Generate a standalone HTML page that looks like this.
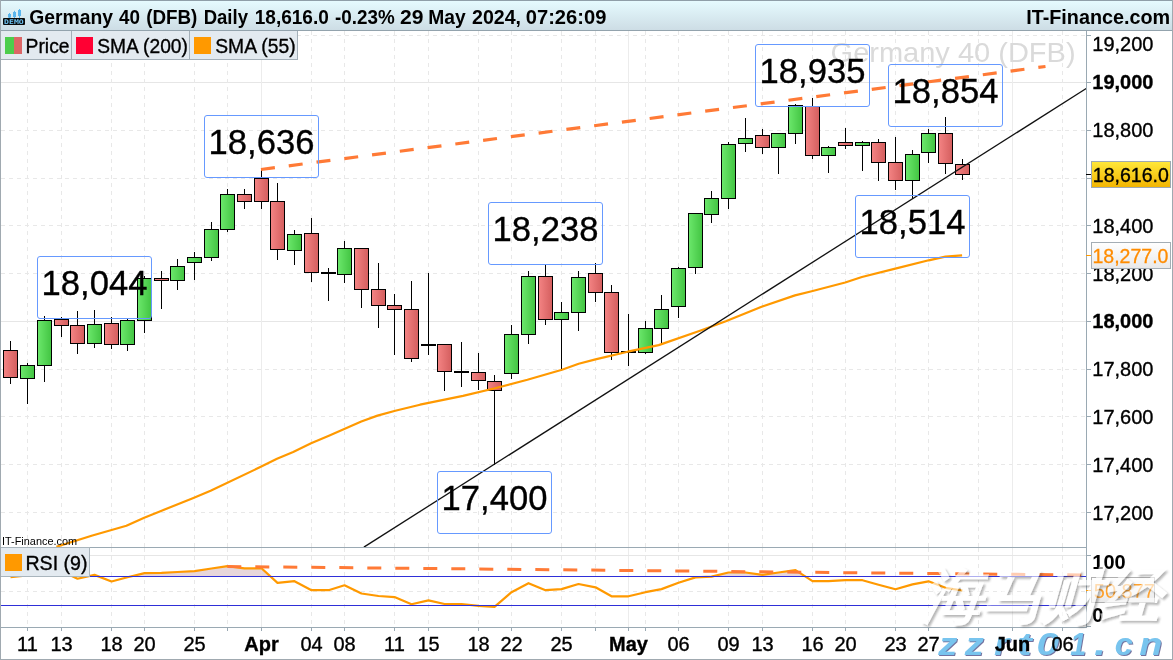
<!DOCTYPE html>
<html><head><meta charset="utf-8"><title>Germany 40 (DFB) Daily</title>
<style>
html,body{margin:0;padding:0;background:#fff;width:1173px;height:660px;overflow:hidden}
svg{display:block}
text{font-family:"Liberation Sans",Arial,sans-serif;stroke:currentColor;stroke-width:0}
.b3{stroke:#000;stroke-width:0.35px}
</style></head><body>
<svg width="1173" height="660" viewBox="0 0 1173 660">
<defs>
<linearGradient id="hdr" x1="0" y1="0" x2="0" y2="1"><stop offset="0" stop-color="#e6fbff"/><stop offset="1" stop-color="#cddde5"/></linearGradient>
<linearGradient id="gG" x1="0" y1="0" x2="1" y2="0"><stop offset="0" stop-color="#6ce86c"/><stop offset="1" stop-color="#42c442"/></linearGradient>
<linearGradient id="gR" x1="0" y1="0" x2="1" y2="0"><stop offset="0" stop-color="#f48484"/><stop offset="1" stop-color="#d45e5e"/></linearGradient>
<linearGradient id="gY" x1="0" y1="0" x2="0" y2="1"><stop offset="0" stop-color="#ffe83a"/><stop offset="1" stop-color="#f2b400"/></linearGradient>
<linearGradient id="gW" x1="0" y1="0" x2="0" y2="1"><stop offset="0" stop-color="#ffffff"/><stop offset="1" stop-color="#e9e9e9"/></linearGradient>
<clipPath id="cpMain"><rect x="1" y="31" width="1085" height="516"/></clipPath>
<clipPath id="cpRsi"><rect x="1" y="548" width="1085" height="79"/></clipPath>
<filter id="wmShadow" x="-10%" y="-10%" width="130%" height="140%"><feGaussianBlur in="SourceAlpha" stdDeviation="0.9"/><feOffset dx="2.2" dy="2.4" result="b"/><feFlood flood-color="#3a3a3a" flood-opacity="0.6"/><feComposite in2="b" operator="in"/><feMerge><feMergeNode/><feMergeNode in="SourceGraphic"/></feMerge></filter>
<filter id="urlShadow" x="-10%" y="-20%" width="130%" height="150%"><feOffset in="SourceAlpha" dx="1.2" dy="1.4" result="o"/><feFlood flood-color="#5a5a90" flood-opacity="0.85"/><feComposite in2="o" operator="in"/><feMerge><feMergeNode/><feMergeNode in="SourceGraphic"/></feMerge></filter>
</defs>
<rect x="0" y="0" width="1173" height="660" fill="#fff"/>

<line x1="1" y1="512.5" x2="1086" y2="512.5" stroke="#e8e8e8" stroke-width="1" stroke-dasharray="4 4"/>
<line x1="1" y1="464.5" x2="1086" y2="464.5" stroke="#e8e8e8" stroke-width="1" stroke-dasharray="4 4"/>
<line x1="1" y1="416.5" x2="1086" y2="416.5" stroke="#e8e8e8" stroke-width="1" stroke-dasharray="4 4"/>
<line x1="1" y1="369.5" x2="1086" y2="369.5" stroke="#e8e8e8" stroke-width="1" stroke-dasharray="4 4"/>
<line x1="1" y1="321.5" x2="1086" y2="321.5" stroke="#e6e6e6" stroke-width="1"/>
<line x1="1" y1="273.5" x2="1086" y2="273.5" stroke="#e8e8e8" stroke-width="1" stroke-dasharray="4 4"/>
<line x1="1" y1="225.5" x2="1086" y2="225.5" stroke="#e8e8e8" stroke-width="1" stroke-dasharray="4 4"/>
<line x1="1" y1="178.5" x2="1086" y2="178.5" stroke="#e8e8e8" stroke-width="1" stroke-dasharray="4 4"/>
<line x1="1" y1="130.5" x2="1086" y2="130.5" stroke="#e8e8e8" stroke-width="1" stroke-dasharray="4 4"/>
<line x1="1" y1="82.5" x2="1086" y2="82.5" stroke="#e6e6e6" stroke-width="1"/>
<line x1="1" y1="35.5" x2="1086" y2="35.5" stroke="#e8e8e8" stroke-width="1" stroke-dasharray="4 4"/>
<line x1="27.5" y1="31" x2="27.5" y2="547" stroke="#e8e8e8" stroke-width="1" stroke-dasharray="4 4"/>
<line x1="27.5" y1="548" x2="27.5" y2="627" stroke="#e8e8e8" stroke-width="1" stroke-dasharray="4 4"/>
<line x1="61.5" y1="31" x2="61.5" y2="547" stroke="#e8e8e8" stroke-width="1" stroke-dasharray="4 4"/>
<line x1="61.5" y1="548" x2="61.5" y2="627" stroke="#e8e8e8" stroke-width="1" stroke-dasharray="4 4"/>
<line x1="111.5" y1="31" x2="111.5" y2="547" stroke="#e8e8e8" stroke-width="1" stroke-dasharray="4 4"/>
<line x1="111.5" y1="548" x2="111.5" y2="627" stroke="#e8e8e8" stroke-width="1" stroke-dasharray="4 4"/>
<line x1="144.5" y1="31" x2="144.5" y2="547" stroke="#e8e8e8" stroke-width="1" stroke-dasharray="4 4"/>
<line x1="144.5" y1="548" x2="144.5" y2="627" stroke="#e8e8e8" stroke-width="1" stroke-dasharray="4 4"/>
<line x1="194.5" y1="31" x2="194.5" y2="547" stroke="#e8e8e8" stroke-width="1" stroke-dasharray="4 4"/>
<line x1="194.5" y1="548" x2="194.5" y2="627" stroke="#e8e8e8" stroke-width="1" stroke-dasharray="4 4"/>
<line x1="227.5" y1="31" x2="227.5" y2="547" stroke="#e8e8e8" stroke-width="1" stroke-dasharray="4 4"/>
<line x1="227.5" y1="548" x2="227.5" y2="627" stroke="#e8e8e8" stroke-width="1" stroke-dasharray="4 4"/>
<line x1="261.5" y1="31" x2="261.5" y2="547" stroke="#ececec" stroke-width="1"/>
<line x1="261.5" y1="548" x2="261.5" y2="627" stroke="#ececec" stroke-width="1"/>
<line x1="311.5" y1="31" x2="311.5" y2="547" stroke="#e8e8e8" stroke-width="1" stroke-dasharray="4 4"/>
<line x1="311.5" y1="548" x2="311.5" y2="627" stroke="#e8e8e8" stroke-width="1" stroke-dasharray="4 4"/>
<line x1="344.5" y1="31" x2="344.5" y2="547" stroke="#e8e8e8" stroke-width="1" stroke-dasharray="4 4"/>
<line x1="344.5" y1="548" x2="344.5" y2="627" stroke="#e8e8e8" stroke-width="1" stroke-dasharray="4 4"/>
<line x1="394.5" y1="31" x2="394.5" y2="547" stroke="#e8e8e8" stroke-width="1" stroke-dasharray="4 4"/>
<line x1="394.5" y1="548" x2="394.5" y2="627" stroke="#e8e8e8" stroke-width="1" stroke-dasharray="4 4"/>
<line x1="428.5" y1="31" x2="428.5" y2="547" stroke="#e8e8e8" stroke-width="1" stroke-dasharray="4 4"/>
<line x1="428.5" y1="548" x2="428.5" y2="627" stroke="#e8e8e8" stroke-width="1" stroke-dasharray="4 4"/>
<line x1="478.5" y1="31" x2="478.5" y2="547" stroke="#e8e8e8" stroke-width="1" stroke-dasharray="4 4"/>
<line x1="478.5" y1="548" x2="478.5" y2="627" stroke="#e8e8e8" stroke-width="1" stroke-dasharray="4 4"/>
<line x1="511.5" y1="31" x2="511.5" y2="547" stroke="#e8e8e8" stroke-width="1" stroke-dasharray="4 4"/>
<line x1="511.5" y1="548" x2="511.5" y2="627" stroke="#e8e8e8" stroke-width="1" stroke-dasharray="4 4"/>
<line x1="561.5" y1="31" x2="561.5" y2="547" stroke="#e8e8e8" stroke-width="1" stroke-dasharray="4 4"/>
<line x1="561.5" y1="548" x2="561.5" y2="627" stroke="#e8e8e8" stroke-width="1" stroke-dasharray="4 4"/>
<line x1="595.5" y1="31" x2="595.5" y2="547" stroke="#e8e8e8" stroke-width="1" stroke-dasharray="4 4"/>
<line x1="595.5" y1="548" x2="595.5" y2="627" stroke="#e8e8e8" stroke-width="1" stroke-dasharray="4 4"/>
<line x1="628.5" y1="31" x2="628.5" y2="547" stroke="#ececec" stroke-width="1"/>
<line x1="628.5" y1="548" x2="628.5" y2="627" stroke="#ececec" stroke-width="1"/>
<line x1="645.5" y1="31" x2="645.5" y2="547" stroke="#e8e8e8" stroke-width="1" stroke-dasharray="4 4"/>
<line x1="645.5" y1="548" x2="645.5" y2="627" stroke="#e8e8e8" stroke-width="1" stroke-dasharray="4 4"/>
<line x1="678.5" y1="31" x2="678.5" y2="547" stroke="#e8e8e8" stroke-width="1" stroke-dasharray="4 4"/>
<line x1="678.5" y1="548" x2="678.5" y2="627" stroke="#e8e8e8" stroke-width="1" stroke-dasharray="4 4"/>
<line x1="728.5" y1="31" x2="728.5" y2="547" stroke="#e8e8e8" stroke-width="1" stroke-dasharray="4 4"/>
<line x1="728.5" y1="548" x2="728.5" y2="627" stroke="#e8e8e8" stroke-width="1" stroke-dasharray="4 4"/>
<line x1="762.5" y1="31" x2="762.5" y2="547" stroke="#e8e8e8" stroke-width="1" stroke-dasharray="4 4"/>
<line x1="762.5" y1="548" x2="762.5" y2="627" stroke="#e8e8e8" stroke-width="1" stroke-dasharray="4 4"/>
<line x1="812.5" y1="31" x2="812.5" y2="547" stroke="#e8e8e8" stroke-width="1" stroke-dasharray="4 4"/>
<line x1="812.5" y1="548" x2="812.5" y2="627" stroke="#e8e8e8" stroke-width="1" stroke-dasharray="4 4"/>
<line x1="845.5" y1="31" x2="845.5" y2="547" stroke="#e8e8e8" stroke-width="1" stroke-dasharray="4 4"/>
<line x1="845.5" y1="548" x2="845.5" y2="627" stroke="#e8e8e8" stroke-width="1" stroke-dasharray="4 4"/>
<line x1="895.5" y1="31" x2="895.5" y2="547" stroke="#e8e8e8" stroke-width="1" stroke-dasharray="4 4"/>
<line x1="895.5" y1="548" x2="895.5" y2="627" stroke="#e8e8e8" stroke-width="1" stroke-dasharray="4 4"/>
<line x1="928.5" y1="31" x2="928.5" y2="547" stroke="#e8e8e8" stroke-width="1" stroke-dasharray="4 4"/>
<line x1="928.5" y1="548" x2="928.5" y2="627" stroke="#e8e8e8" stroke-width="1" stroke-dasharray="4 4"/>
<line x1="978.5" y1="31" x2="978.5" y2="547" stroke="#e8e8e8" stroke-width="1" stroke-dasharray="4 4"/>
<line x1="978.5" y1="548" x2="978.5" y2="627" stroke="#e8e8e8" stroke-width="1" stroke-dasharray="4 4"/>
<line x1="1012.5" y1="31" x2="1012.5" y2="547" stroke="#ececec" stroke-width="1"/>
<line x1="1012.5" y1="548" x2="1012.5" y2="627" stroke="#ececec" stroke-width="1"/>
<line x1="1062.5" y1="31" x2="1062.5" y2="547" stroke="#e8e8e8" stroke-width="1" stroke-dasharray="4 4"/>
<line x1="1062.5" y1="548" x2="1062.5" y2="627" stroke="#e8e8e8" stroke-width="1" stroke-dasharray="4 4"/>
<line x1="1" y1="555.5" x2="1086" y2="555.5" stroke="#e6e6e6" stroke-width="1"/>
<line x1="1" y1="591.5" x2="1086" y2="591.5" stroke="#e8e8e8" stroke-width="1" stroke-dasharray="4 4"/>
<text x="830.6" y="62.2" font-size="28" fill="#dadada" textLength="245" lengthAdjust="spacingAndGlyphs">Germany 40 (DFB)</text>
<rect x="10" y="341" width="1" height="43" fill="#000"/>
<rect x="3.5" y="350.5" width="14" height="27" fill="url(#gR)" stroke="#000" stroke-width="1"/>
<rect x="27" y="363" width="1" height="41" fill="#000"/>
<rect x="20.5" y="365.5" width="14" height="13" fill="url(#gG)" stroke="#000" stroke-width="1"/>
<rect x="44" y="316" width="1" height="66" fill="#000"/>
<rect x="37.5" y="320.5" width="14" height="45" fill="url(#gG)" stroke="#000" stroke-width="1"/>
<rect x="61" y="317" width="1" height="20" fill="#000"/>
<rect x="54.5" y="319.5" width="14" height="6" fill="url(#gR)" stroke="#000" stroke-width="1"/>
<rect x="77" y="311" width="1" height="43" fill="#000"/>
<rect x="70.5" y="325.5" width="14" height="18" fill="url(#gR)" stroke="#000" stroke-width="1"/>
<rect x="94" y="310" width="1" height="38" fill="#000"/>
<rect x="87.5" y="324.5" width="14" height="19" fill="url(#gG)" stroke="#000" stroke-width="1"/>
<rect x="111" y="317" width="1" height="32" fill="#000"/>
<rect x="104.5" y="323.5" width="14" height="21" fill="url(#gR)" stroke="#000" stroke-width="1"/>
<rect x="127" y="318" width="1" height="33" fill="#000"/>
<rect x="120.5" y="320.5" width="14" height="24" fill="url(#gG)" stroke="#000" stroke-width="1"/>
<rect x="144" y="276" width="1" height="57" fill="#000"/>
<rect x="137.5" y="278.5" width="14" height="42" fill="url(#gG)" stroke="#000" stroke-width="1"/>
<rect x="161" y="271" width="1" height="38" fill="#000"/>
<rect x="154.5" y="278.5" width="14" height="2" fill="url(#gR)" stroke="#000" stroke-width="1"/>
<rect x="177" y="259" width="1" height="31" fill="#000"/>
<rect x="170.5" y="266.5" width="14" height="14" fill="url(#gG)" stroke="#000" stroke-width="1"/>
<rect x="194" y="252" width="1" height="28" fill="#000"/>
<rect x="187.5" y="257.5" width="14" height="5" fill="url(#gG)" stroke="#000" stroke-width="1"/>
<rect x="211" y="222" width="1" height="39" fill="#000"/>
<rect x="204.5" y="229.5" width="14" height="28" fill="url(#gG)" stroke="#000" stroke-width="1"/>
<rect x="227" y="189" width="1" height="43" fill="#000"/>
<rect x="220.5" y="194.5" width="14" height="35" fill="url(#gG)" stroke="#000" stroke-width="1"/>
<rect x="244" y="189" width="1" height="20" fill="#000"/>
<rect x="237.5" y="194.5" width="14" height="7" fill="url(#gR)" stroke="#000" stroke-width="1"/>
<rect x="261" y="169" width="1" height="40" fill="#000"/>
<rect x="254.5" y="178.5" width="14" height="23" fill="url(#gR)" stroke="#000" stroke-width="1"/>
<rect x="277" y="183" width="1" height="77" fill="#000"/>
<rect x="270.5" y="201.5" width="14" height="48" fill="url(#gR)" stroke="#000" stroke-width="1"/>
<rect x="294" y="230" width="1" height="35" fill="#000"/>
<rect x="287.5" y="234.5" width="14" height="16" fill="url(#gG)" stroke="#000" stroke-width="1"/>
<rect x="311" y="218" width="1" height="64" fill="#000"/>
<rect x="304.5" y="233.5" width="14" height="39" fill="url(#gR)" stroke="#000" stroke-width="1"/>
<rect x="328" y="268" width="1" height="33" fill="#000"/>
<rect x="321" y="272" width="15" height="2" fill="#000"/>
<rect x="344" y="241" width="1" height="42" fill="#000"/>
<rect x="337.5" y="248.5" width="14" height="26" fill="url(#gG)" stroke="#000" stroke-width="1"/>
<rect x="361" y="248" width="1" height="60" fill="#000"/>
<rect x="354.5" y="248.5" width="14" height="41" fill="url(#gR)" stroke="#000" stroke-width="1"/>
<rect x="378" y="263" width="1" height="65" fill="#000"/>
<rect x="371.5" y="289.5" width="14" height="16" fill="url(#gR)" stroke="#000" stroke-width="1"/>
<rect x="394" y="294" width="1" height="61" fill="#000"/>
<rect x="387.5" y="305.5" width="14" height="4" fill="url(#gR)" stroke="#000" stroke-width="1"/>
<rect x="411" y="281" width="1" height="81" fill="#000"/>
<rect x="404.5" y="309.5" width="14" height="49" fill="url(#gR)" stroke="#000" stroke-width="1"/>
<rect x="428" y="273" width="1" height="82" fill="#000"/>
<rect x="421" y="344" width="15" height="2" fill="#000"/>
<rect x="444" y="344" width="1" height="47" fill="#000"/>
<rect x="437.5" y="344.5" width="14" height="27" fill="url(#gR)" stroke="#000" stroke-width="1"/>
<rect x="461" y="342" width="1" height="45" fill="#000"/>
<rect x="454" y="371" width="15" height="2" fill="#000"/>
<rect x="478" y="353" width="1" height="37" fill="#000"/>
<rect x="471.5" y="372.5" width="14" height="8" fill="url(#gR)" stroke="#000" stroke-width="1"/>
<rect x="494" y="375" width="1" height="90" fill="#000"/>
<rect x="487.5" y="381.5" width="14" height="9" fill="url(#gR)" stroke="#000" stroke-width="1"/>
<rect x="511" y="325" width="1" height="54" fill="#000"/>
<rect x="504.5" y="334.5" width="14" height="39" fill="url(#gG)" stroke="#000" stroke-width="1"/>
<rect x="528" y="271" width="1" height="73" fill="#000"/>
<rect x="521.5" y="276.5" width="14" height="58" fill="url(#gG)" stroke="#000" stroke-width="1"/>
<rect x="545" y="264" width="1" height="61" fill="#000"/>
<rect x="538.5" y="276.5" width="14" height="43" fill="url(#gR)" stroke="#000" stroke-width="1"/>
<rect x="561" y="302" width="1" height="69" fill="#000"/>
<rect x="554.5" y="312.5" width="14" height="7" fill="url(#gG)" stroke="#000" stroke-width="1"/>
<rect x="578" y="271" width="1" height="60" fill="#000"/>
<rect x="571.5" y="277.5" width="14" height="35" fill="url(#gG)" stroke="#000" stroke-width="1"/>
<rect x="595" y="263" width="1" height="39" fill="#000"/>
<rect x="588.5" y="273.5" width="14" height="19" fill="url(#gR)" stroke="#000" stroke-width="1"/>
<rect x="611" y="285" width="1" height="75" fill="#000"/>
<rect x="604.5" y="292.5" width="14" height="60" fill="url(#gR)" stroke="#000" stroke-width="1"/>
<rect x="628" y="314" width="1" height="52" fill="#000"/>
<rect x="621" y="351" width="15" height="2" fill="#000"/>
<rect x="645" y="321" width="1" height="33" fill="#000"/>
<rect x="638.5" y="328.5" width="14" height="24" fill="url(#gG)" stroke="#000" stroke-width="1"/>
<rect x="661" y="295" width="1" height="50" fill="#000"/>
<rect x="654.5" y="309.5" width="14" height="19" fill="url(#gG)" stroke="#000" stroke-width="1"/>
<rect x="678" y="267" width="1" height="51" fill="#000"/>
<rect x="671.5" y="268.5" width="14" height="38" fill="url(#gG)" stroke="#000" stroke-width="1"/>
<rect x="695" y="213" width="1" height="61" fill="#000"/>
<rect x="688.5" y="213.5" width="14" height="54" fill="url(#gG)" stroke="#000" stroke-width="1"/>
<rect x="711" y="191" width="1" height="32" fill="#000"/>
<rect x="704.5" y="198.5" width="14" height="16" fill="url(#gG)" stroke="#000" stroke-width="1"/>
<rect x="728" y="142" width="1" height="67" fill="#000"/>
<rect x="721.5" y="144.5" width="14" height="54" fill="url(#gG)" stroke="#000" stroke-width="1"/>
<rect x="745" y="118" width="1" height="34" fill="#000"/>
<rect x="738.5" y="138.5" width="14" height="5" fill="url(#gG)" stroke="#000" stroke-width="1"/>
<rect x="762" y="129" width="1" height="25" fill="#000"/>
<rect x="755.5" y="135.5" width="14" height="12" fill="url(#gR)" stroke="#000" stroke-width="1"/>
<rect x="778" y="133" width="1" height="41" fill="#000"/>
<rect x="771.5" y="133.5" width="14" height="14" fill="url(#gG)" stroke="#000" stroke-width="1"/>
<rect x="795" y="104" width="1" height="40" fill="#000"/>
<rect x="788.5" y="105.5" width="14" height="28" fill="url(#gG)" stroke="#000" stroke-width="1"/>
<rect x="812" y="98" width="1" height="61" fill="#000"/>
<rect x="805.5" y="106.5" width="14" height="49" fill="url(#gR)" stroke="#000" stroke-width="1"/>
<rect x="828" y="146" width="1" height="27" fill="#000"/>
<rect x="821.5" y="147.5" width="14" height="8" fill="url(#gG)" stroke="#000" stroke-width="1"/>
<rect x="845" y="128" width="1" height="21" fill="#000"/>
<rect x="838.5" y="142.5" width="14" height="3" fill="url(#gR)" stroke="#000" stroke-width="1"/>
<rect x="862" y="141" width="1" height="30" fill="#000"/>
<rect x="855.5" y="142.5" width="14" height="3" fill="url(#gG)" stroke="#000" stroke-width="1"/>
<rect x="878" y="139" width="1" height="42" fill="#000"/>
<rect x="871.5" y="142.5" width="14" height="20" fill="url(#gR)" stroke="#000" stroke-width="1"/>
<rect x="895" y="137" width="1" height="53" fill="#000"/>
<rect x="888.5" y="162.5" width="14" height="18" fill="url(#gR)" stroke="#000" stroke-width="1"/>
<rect x="912" y="150" width="1" height="49" fill="#000"/>
<rect x="905.5" y="154.5" width="14" height="26" fill="url(#gG)" stroke="#000" stroke-width="1"/>
<rect x="928" y="129" width="1" height="34" fill="#000"/>
<rect x="921.5" y="133.5" width="14" height="19" fill="url(#gG)" stroke="#000" stroke-width="1"/>
<rect x="945" y="117" width="1" height="57" fill="#000"/>
<rect x="938.5" y="133.5" width="14" height="30" fill="url(#gR)" stroke="#000" stroke-width="1"/>
<rect x="962" y="159" width="1" height="21" fill="#000"/>
<rect x="955.5" y="164.5" width="14" height="10" fill="url(#gR)" stroke="#000" stroke-width="1"/>
<g clip-path="url(#cpMain)"><polyline points="56.4,546.8 92.4,535.5 126.4,525.8 144.2,517.7 160.4,511.2 192.8,498.2 210.6,490.8 260.8,466.8 277.0,458.7 293.2,451.9 311.1,443.2 328.9,435.7 361.3,421.5 377.5,415.6 395.3,410.8 420.0,404.7 463.0,395.9 494.0,388.5 527.4,379.7 562.0,369.7 578.7,363.7 595.5,359.4 627.7,351.7 658.7,345.1 700.0,330.7 725.8,321.2 761.6,306.8 795.0,295.4 811.7,291.3 845.2,282.5 861.9,277.0 895.3,268.6 928.7,260.3 945.4,256.7 962.1,255.4" fill="none" stroke="#ff9900" stroke-width="2.2" stroke-linejoin="round"/></g>
<line x1="363.9" y1="547.1" x2="1086.6" y2="88.3" stroke="#111" stroke-width="1.3"/>
<line x1="261" y1="169.5" x2="1045.5" y2="66.5" stroke="#ff7a36" stroke-width="3.2" stroke-dasharray="14 14"/>
<rect x="37.5" y="256.5" width="114" height="62" rx="2.5" ry="2.5" fill="none" stroke="#6699ff" stroke-width="1"/>
<text class="b3" x="94.5" y="295.3" font-size="34.6" text-anchor="middle" fill="#000">18,044</text>
<rect x="204.5" y="115.5" width="114" height="62" rx="2.5" ry="2.5" fill="none" stroke="#6699ff" stroke-width="1"/>
<text class="b3" x="261.5" y="154.3" font-size="34.6" text-anchor="middle" fill="#000">18,636</text>
<rect x="488.5" y="202.5" width="114" height="62" rx="2.5" ry="2.5" fill="none" stroke="#6699ff" stroke-width="1"/>
<text class="b3" x="545.5" y="241.3" font-size="34.6" text-anchor="middle" fill="#000">18,238</text>
<rect x="437.5" y="471.5" width="114" height="62" rx="2.5" ry="2.5" fill="none" stroke="#6699ff" stroke-width="1"/>
<text class="b3" x="494.5" y="510.3" font-size="34.6" text-anchor="middle" fill="#000">17,400</text>
<rect x="755.5" y="44.5" width="114" height="62" rx="2.5" ry="2.5" fill="none" stroke="#6699ff" stroke-width="1"/>
<text class="b3" x="812.5" y="83.3" font-size="34.6" text-anchor="middle" fill="#000">18,935</text>
<rect x="888.5" y="64.5" width="114" height="62" rx="2.5" ry="2.5" fill="none" stroke="#6699ff" stroke-width="1"/>
<text class="b3" x="945.5" y="103.3" font-size="34.6" text-anchor="middle" fill="#000">18,854</text>
<rect x="855.5" y="195.5" width="114" height="62" rx="2.5" ry="2.5" fill="none" stroke="#6699ff" stroke-width="1"/>
<text class="b3" x="912.5" y="234.3" font-size="34.6" text-anchor="middle" fill="#000">18,514</text>
<text x="2" y="544.6" font-size="10.9" fill="#000">IT-Finance.com</text>
<g clip-path="url(#cpRsi)">
<polygon points="18.5,576.4 27.5,575.5 44.5,565.0 61.5,571.0 72.7,576.4" fill="#e7d6da"/>
<polygon points="87.8,576.4 94.5,574.9 98.4,576.4" fill="#e7d6da"/>
<polygon points="131.1,576.4 144.5,573.1 161.5,572.9 177.5,572.0 194.5,571.1 211.5,568.5 227.5,566.2 244.5,568.3 261.5,568.3 270.4,576.4" fill="#e7d6da"/>
<polygon points="712.3,576.4 728.5,572.5 745.5,572.5 762.5,574.8 778.5,572.5 795.5,570.2 805.1,576.4" fill="#e7d6da"/>
<polyline points="10.5,577.2 27.5,575.5 44.5,565.0 61.5,571.0 77.5,578.7 94.5,574.9 111.5,581.5 127.5,577.3 144.5,573.1 161.5,572.9 177.5,572.0 194.5,571.1 211.5,568.5 227.5,566.2 244.5,568.3 261.5,568.3 277.5,582.9 294.5,581.2 311.5,590.2 328.5,590.2 344.5,585.3 361.5,593.5 378.5,596.0 394.5,597.1 411.5,604.2 428.5,600.4 444.5,604.0 461.5,604.0 478.5,605.8 494.5,606.8 511.5,592.2 528.5,583.2 545.5,590.2 561.5,589.1 578.5,584.0 595.5,587.3 611.5,596.3 628.5,596.3 645.5,592.2 661.5,589.1 678.5,582.7 695.5,577.4 711.5,576.6 728.5,572.5 745.5,572.5 762.5,574.8 778.5,572.5 795.5,570.2 812.5,581.2 828.5,581.2 845.5,580.2 862.5,580.2 878.5,584.7 895.5,589.3 912.5,584.4 928.5,581.3 945.5,587.8 962.5,590.5" fill="none" stroke="#ff9900" stroke-width="2.2" stroke-linejoin="round"/>
<line x1="1" y1="576.5" x2="1086" y2="576.5" stroke="#2f2fd8" stroke-width="1.1"/>
<line x1="1" y1="605.5" x2="1086" y2="605.5" stroke="#2f2fd8" stroke-width="1.1"/>
<line x1="227.3" y1="566.5" x2="1082" y2="575" stroke="#ff7a36" stroke-width="3" stroke-dasharray="14 14"/>
</g>
<line x1="0" y1="547.5" x2="1086" y2="547.5" stroke="#9aa9b3" stroke-width="1"/>
<line x1="0" y1="627.5" x2="1086" y2="627.5" stroke="#9aa9b3" stroke-width="1"/>
<line x1="1086.5" y1="31" x2="1086.5" y2="628" stroke="#9aa9b3" stroke-width="1"/>
<line x1="1086" y1="512.5" x2="1091" y2="512.5" stroke="#9aa9b3" stroke-width="1"/>
<line x1="1086" y1="464.5" x2="1091" y2="464.5" stroke="#9aa9b3" stroke-width="1"/>
<line x1="1086" y1="416.5" x2="1091" y2="416.5" stroke="#9aa9b3" stroke-width="1"/>
<line x1="1086" y1="369.5" x2="1091" y2="369.5" stroke="#9aa9b3" stroke-width="1"/>
<line x1="1086" y1="321.5" x2="1091" y2="321.5" stroke="#9aa9b3" stroke-width="1"/>
<line x1="1086" y1="273.5" x2="1091" y2="273.5" stroke="#9aa9b3" stroke-width="1"/>
<line x1="1086" y1="225.5" x2="1091" y2="225.5" stroke="#9aa9b3" stroke-width="1"/>
<line x1="1086" y1="178.5" x2="1091" y2="178.5" stroke="#9aa9b3" stroke-width="1"/>
<line x1="1086" y1="130.5" x2="1091" y2="130.5" stroke="#9aa9b3" stroke-width="1"/>
<line x1="1086" y1="82.5" x2="1091" y2="82.5" stroke="#9aa9b3" stroke-width="1"/>
<line x1="1086" y1="35.5" x2="1091" y2="35.5" stroke="#9aa9b3" stroke-width="1"/>
<line x1="1086" y1="555.5" x2="1091" y2="555.5" stroke="#9aa9b3" stroke-width="1"/>
<line x1="1086" y1="626.5" x2="1091" y2="626.5" stroke="#9aa9b3" stroke-width="1"/>
<line x1="27.5" y1="627" x2="27.5" y2="631" stroke="#9aa9b3" stroke-width="1"/>
<line x1="61.5" y1="627" x2="61.5" y2="631" stroke="#9aa9b3" stroke-width="1"/>
<line x1="111.5" y1="627" x2="111.5" y2="631" stroke="#9aa9b3" stroke-width="1"/>
<line x1="144.5" y1="627" x2="144.5" y2="631" stroke="#9aa9b3" stroke-width="1"/>
<line x1="194.5" y1="627" x2="194.5" y2="631" stroke="#9aa9b3" stroke-width="1"/>
<line x1="227.5" y1="627" x2="227.5" y2="631" stroke="#9aa9b3" stroke-width="1"/>
<line x1="261.5" y1="627" x2="261.5" y2="631" stroke="#9aa9b3" stroke-width="1"/>
<line x1="311.5" y1="627" x2="311.5" y2="631" stroke="#9aa9b3" stroke-width="1"/>
<line x1="344.5" y1="627" x2="344.5" y2="631" stroke="#9aa9b3" stroke-width="1"/>
<line x1="394.5" y1="627" x2="394.5" y2="631" stroke="#9aa9b3" stroke-width="1"/>
<line x1="428.5" y1="627" x2="428.5" y2="631" stroke="#9aa9b3" stroke-width="1"/>
<line x1="478.5" y1="627" x2="478.5" y2="631" stroke="#9aa9b3" stroke-width="1"/>
<line x1="511.5" y1="627" x2="511.5" y2="631" stroke="#9aa9b3" stroke-width="1"/>
<line x1="561.5" y1="627" x2="561.5" y2="631" stroke="#9aa9b3" stroke-width="1"/>
<line x1="595.5" y1="627" x2="595.5" y2="631" stroke="#9aa9b3" stroke-width="1"/>
<line x1="628.5" y1="627" x2="628.5" y2="631" stroke="#9aa9b3" stroke-width="1"/>
<line x1="645.5" y1="627" x2="645.5" y2="631" stroke="#9aa9b3" stroke-width="1"/>
<line x1="678.5" y1="627" x2="678.5" y2="631" stroke="#9aa9b3" stroke-width="1"/>
<line x1="728.5" y1="627" x2="728.5" y2="631" stroke="#9aa9b3" stroke-width="1"/>
<line x1="762.5" y1="627" x2="762.5" y2="631" stroke="#9aa9b3" stroke-width="1"/>
<line x1="812.5" y1="627" x2="812.5" y2="631" stroke="#9aa9b3" stroke-width="1"/>
<line x1="845.5" y1="627" x2="845.5" y2="631" stroke="#9aa9b3" stroke-width="1"/>
<line x1="895.5" y1="627" x2="895.5" y2="631" stroke="#9aa9b3" stroke-width="1"/>
<line x1="928.5" y1="627" x2="928.5" y2="631" stroke="#9aa9b3" stroke-width="1"/>
<line x1="978.5" y1="627" x2="978.5" y2="631" stroke="#9aa9b3" stroke-width="1"/>
<line x1="1012.5" y1="627" x2="1012.5" y2="631" stroke="#9aa9b3" stroke-width="1"/>
<line x1="1062.5" y1="627" x2="1062.5" y2="631" stroke="#9aa9b3" stroke-width="1"/>
<text class="b3" x="1092.3" y="519.6" font-size="20" fill="#000">17,200</text>
<text class="b3" x="1092.3" y="471.8" font-size="20" fill="#000">17,400</text>
<text class="b3" x="1092.3" y="424.0" font-size="20" fill="#000">17,600</text>
<text class="b3" x="1092.3" y="376.2" font-size="20" fill="#000">17,800</text>
<text class="b3" x="1092.3" y="328.4" font-size="20" font-weight="bold" fill="#000">18,000</text>
<text class="b3" x="1092.3" y="280.6" font-size="20" fill="#000">18,200</text>
<text class="b3" x="1092.3" y="232.8" font-size="20" fill="#000">18,400</text>
<text class="b3" x="1092.3" y="137.2" font-size="20" fill="#000">18,800</text>
<text class="b3" x="1092.3" y="89.4" font-size="20" font-weight="bold" fill="#000">19,000</text>
<text class="b3" x="1092.3" y="51.2" font-size="20" fill="#000">19,200</text>
<text x="1092.3" y="568.6" font-size="20" font-weight="bold" fill="#000">100</text>
<text x="1092.3" y="621.8" font-size="20" font-weight="bold" fill="#000">0</text>
<line x1="1086" y1="174.5" x2="1091" y2="174.5" stroke="#000" stroke-width="1"/>
<rect x="1091.5" y="161.5" width="79" height="26" fill="url(#gY)" stroke="#9fa9b1" stroke-width="1"/>
<text class="b3" x="1092.85" y="182.1" font-size="20" fill="#000" textLength="75.99" lengthAdjust="spacingAndGlyphs">18,616.0</text>
<line x1="1086" y1="255.5" x2="1091" y2="255.5" stroke="#ff9900" stroke-width="1"/>
<rect x="1091.5" y="242.5" width="79" height="26" fill="url(#gW)" stroke="#a4adb4" stroke-width="1"/>
<text x="1092.45" y="262.8" font-size="20" fill="#ff8c00" style="stroke:#ff8c00;stroke-width:0.3px" textLength="75.99" lengthAdjust="spacingAndGlyphs">18,277.0</text>
<line x1="1086" y1="590.5" x2="1091" y2="590.5" stroke="#ff9900" stroke-width="1"/>
<rect x="1091.5" y="577.5" width="63" height="25" fill="url(#gW)" stroke="#b0b0b0" stroke-width="1"/>
<text x="1093.8" y="597.5" font-size="20" fill="#ffa22e">50.877</text>
<text class="b3" x="27.5" y="650.6" font-size="20" text-anchor="middle" fill="#000">11</text>
<text class="b3" x="61.5" y="650.6" font-size="20" text-anchor="middle" fill="#000">13</text>
<text class="b3" x="111.5" y="650.6" font-size="20" text-anchor="middle" fill="#000">18</text>
<text class="b3" x="144.5" y="650.6" font-size="20" text-anchor="middle" fill="#000">20</text>
<text class="b3" x="194.5" y="650.6" font-size="20" text-anchor="middle" fill="#000">25</text>
<text class="b3" x="261.5" y="650.6" font-size="20" font-weight="bold" text-anchor="middle" fill="#000">Apr</text>
<text class="b3" x="311.5" y="650.6" font-size="20" text-anchor="middle" fill="#000">04</text>
<text class="b3" x="344.5" y="650.6" font-size="20" text-anchor="middle" fill="#000">08</text>
<text class="b3" x="394.5" y="650.6" font-size="20" text-anchor="middle" fill="#000">11</text>
<text class="b3" x="428.5" y="650.6" font-size="20" text-anchor="middle" fill="#000">15</text>
<text class="b3" x="478.5" y="650.6" font-size="20" text-anchor="middle" fill="#000">18</text>
<text class="b3" x="511.5" y="650.6" font-size="20" text-anchor="middle" fill="#000">22</text>
<text class="b3" x="561.5" y="650.6" font-size="20" text-anchor="middle" fill="#000">25</text>
<text class="b3" x="628.5" y="650.6" font-size="20" font-weight="bold" text-anchor="middle" fill="#000">May</text>
<text class="b3" x="678.5" y="650.6" font-size="20" text-anchor="middle" fill="#000">06</text>
<text class="b3" x="728.5" y="650.6" font-size="20" text-anchor="middle" fill="#000">09</text>
<text class="b3" x="762.5" y="650.6" font-size="20" text-anchor="middle" fill="#000">13</text>
<text class="b3" x="812.5" y="650.6" font-size="20" text-anchor="middle" fill="#000">16</text>
<text class="b3" x="845.5" y="650.6" font-size="20" text-anchor="middle" fill="#000">20</text>
<text class="b3" x="895.5" y="650.6" font-size="20" text-anchor="middle" fill="#000">23</text>
<text class="b3" x="928.5" y="650.6" font-size="20" text-anchor="middle" fill="#000">27</text>
<text class="b3" x="1012.5" y="650.6" font-size="20" font-weight="bold" text-anchor="middle" fill="#000">Jun</text>
<text class="b3" x="1062.5" y="650.6" font-size="20" text-anchor="middle" fill="#000">06</text>
<rect x="0.5" y="30.5" width="297" height="29" fill="#e3eaf0" stroke="#a3afb8" stroke-width="1"/>
<line x1="71.5" y1="31" x2="71.5" y2="59" stroke="#a3afb8" stroke-width="1"/>
<line x1="189.5" y1="31" x2="189.5" y2="59" stroke="#a3afb8" stroke-width="1"/>
<rect x="5" y="37" width="9" height="17" fill="#4ccd4c"/><rect x="14" y="37" width="8" height="17" fill="#dc6666"/>
<text class="b3" x="25.57" y="52.7" font-size="20" fill="#000" textLength="43.99" lengthAdjust="spacingAndGlyphs">Price</text>
<rect x="76" y="37" width="17" height="17" fill="#ff0033"/>
<text class="b3" x="97.24" y="52.7" font-size="20" fill="#000" textLength="90.68" lengthAdjust="spacingAndGlyphs">SMA (200)</text>
<rect x="194" y="37" width="17" height="17" fill="#ff9900"/>
<text class="b3" x="215.24" y="52.7" font-size="20" fill="#000" textLength="80.37" lengthAdjust="spacingAndGlyphs">SMA (55)</text>
<rect x="0.5" y="547.5" width="89" height="29" fill="#e3eaf0" stroke="#a9b5bd" stroke-width="1"/>
<rect x="5" y="554" width="17" height="17" fill="#ff9900"/>
<text class="b3" x="25.44" y="570" font-size="20" fill="#000" textLength="62.08" lengthAdjust="spacingAndGlyphs">RSI (9)</text>
<rect x="0" y="0" width="1173" height="30" fill="url(#hdr)"/>
<line x1="0" y1="0.5" x2="1173" y2="0.5" stroke="#8f9ea8" stroke-width="1"/>
<line x1="0" y1="30.5" x2="1173" y2="30.5" stroke="#93a3ad" stroke-width="1"/>
<g>
<rect x="3" y="18" width="22" height="7" rx="1" fill="#0a0a0a"/>
<text x="4.1" y="23.9" font-size="6.4" font-weight="bold" fill="#6cc2f2" textLength="19.6" lengthAdjust="spacingAndGlyphs" style="font-family:'DejaVu Sans Mono',monospace">DEMO</text>
<line x1="9.5" y1="13" x2="9.5" y2="18" stroke="#5ab6ee" stroke-width="1"/><rect x="8" y="14" width="3" height="3.6" fill="#5ab6ee"/>
<line x1="14.5" y1="10.8" x2="14.5" y2="18" stroke="#5ab6ee" stroke-width="1"/><rect x="13.5" y="12.5" width="2" height="4" fill="none" stroke="#5ab6ee" stroke-width="1"/>
<line x1="19.5" y1="9" x2="19.5" y2="18" stroke="#5ab6ee" stroke-width="1"/><rect x="18.5" y="10.5" width="2" height="5" fill="none" stroke="#5ab6ee" stroke-width="1"/>
</g>
<g font-size="20" font-weight="bold" fill="#000">
<text x="29.23" y="24.2" textLength="83.76" lengthAdjust="spacingAndGlyphs">Germany</text>
<text x="119.1" y="24.2" textLength="20.98" lengthAdjust="spacingAndGlyphs">40</text>
<text x="146.16" y="24.2" textLength="51.25" lengthAdjust="spacingAndGlyphs">(DFB)</text>
<text x="203.67" y="24.2" textLength="44.35" lengthAdjust="spacingAndGlyphs">Daily</text>
<text x="254.75" y="24.2" textLength="74.07" lengthAdjust="spacingAndGlyphs">18,616.0</text>
<text x="335.06" y="24.2" textLength="59.7" lengthAdjust="spacingAndGlyphs">-0.23%</text>
<text x="400.14" y="24.2" textLength="23.47" lengthAdjust="spacingAndGlyphs">29</text>
<text x="428.34" y="24.2" textLength="37.37" lengthAdjust="spacingAndGlyphs">May</text>
<text x="472.02" y="24.2" textLength="49.02" lengthAdjust="spacingAndGlyphs">2024,</text>
<text x="525.79" y="24.2" textLength="80.58" lengthAdjust="spacingAndGlyphs">07:26:09</text>
<text x="1026.21" y="24.2" textLength="143.96" lengthAdjust="spacingAndGlyphs">IT-Finance.com</text>
</g>
<line x1="0.5" y1="0" x2="0.5" y2="660" stroke="#a0a9b0" stroke-width="1"/>
<line x1="1172.5" y1="0" x2="1172.5" y2="660" stroke="#a0a9b0" stroke-width="1"/>
<line x1="0" y1="659.5" x2="1173" y2="659.5" stroke="#a0a9b0" stroke-width="1"/>
<g filter="url(#wmShadow)" opacity="0.62">
<g transform="skewX(-16)" style="font-family:'Liberation Sans','Noto Sans CJK SC','Noto Sans CJK JP',sans-serif" font-size="60" font-weight="900" fill="#ffffff">
<text x="1099" y="617">海</text><text x="1159" y="617">马</text><text x="1218" y="617">财</text><text x="1277" y="617">经</text>
</g></g>
<g style="mix-blend-mode:multiply" filter="url(#urlShadow)">
<g font-size="31" font-weight="bold" font-style="italic" fill="#78c4ee" text-anchor="middle" style="font-family:'DejaVu Sans',sans-serif">
<text transform="translate(947.8,655.2) scale(1.23,1)" x="0" y="0">z</text>
<text transform="translate(974.2,655.2) scale(1.23,1)" x="0" y="0">z</text>
<text transform="translate(1001.5,655.2) scale(1.25,1)" x="0" y="0">r</text>
<text transform="translate(1024.5,655.2) scale(1.4,1)" x="0" y="0">t</text>
<text transform="translate(1047.7,655.2) scale(1.3,1)" x="0" y="0">0</text>
<text transform="translate(1078.3,655.2) scale(0.92,1)" x="0" y="0">1</text>
<text transform="translate(1100,655.2) scale(1.4,1)" x="0" y="0">.</text>
<text transform="translate(1123.9,655.2) scale(1.05,1)" x="0" y="0">c</text>
<text transform="translate(1150.7,655.2) scale(1.22,1)" x="0" y="0">n</text>
</g></g>
</svg>
</body></html>
